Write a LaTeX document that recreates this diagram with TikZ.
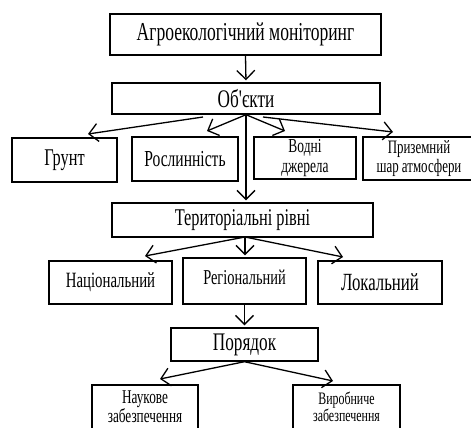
\documentclass[tikz,border=0pt]{standalone}
\usepackage{fontspec}
\setmainfont[FakeStretch=0.68, Ligatures=TeXOff]{Liberation Serif}
\usetikzlibrary{arrows.meta}
\newcommand{\fsz}[2]{\fontsize{#1}{#2}\selectfont}
\tikzset{
  box/.style={draw, line width=1.4pt, inner sep=0pt, align=center},
  link/.style={line width=1.3pt, -{Straight Barb[length=9pt,width=18pt,line width=1.3pt]}},
}
\begin{document}
\begin{tikzpicture}[x=1pt,y=-1pt]
    \useasboundingbox (0,0) rectangle (471,428);

    % Top level
    \node[box, minimum width=271, minimum height=41, font=\fsz{25.8}{26}] (mon) at (245.5,34.5) {Агроекологічний моніторинг};
    \node[box, minimum width=268, minimum height=31, font=\fsz{25.3}{25}] (obj) at (246,98.5) {Об'єкти};

    % Objects
    \node[box, minimum width=105, minimum height=44, font=\fsz{24}{24}] (grunt) at (64.5,160) {Грунт};
    \node[box, minimum width=106, minimum height=44, font=\fsz{22.9}{23}] (rosl) at (185,159) {Рослинність};
    \node[box, minimum width=102, minimum height=42, font=\fsz{19.8}{19.5}] (vodni) at (305,158) {Водні\\джерела};
    \node[box, minimum width=112, minimum height=43, font=\fsz{19}{16}] (atm) at (419,158.5) {Приземний\\шар атмосфери};

    % Territorial levels
    \node[box, minimum width=261, minimum height=34, font=\fsz{24}{24}] (terr) at (242.5,220) {Територіальні рівні};
    \node[box, minimum width=123, minimum height=43, font=\fsz{21.8}{22}] (nats) at (110.5,282.5) {Національний};
    \node[box, minimum width=123, minimum height=46, font=\fsz{21.2}{21}, text depth=8pt] (reg) at (244.5,281) {Регіональний};
    \node[box, minimum width=124, minimum height=43, font=\fsz{24.7}{25}] (lok) at (380,282.5) {Локальний};

    % Order
    \node[box, minimum width=147, minimum height=33, font=\fsz{25.3}{25}] (por) at (244.5,344.5) {Порядок};
    \node[box, minimum width=106, minimum height=44, font=\fsz{19.5}{17.5}] (nauk) at (145,407) {Наукове\\забезпечення};
    \node[box, minimum width=107, minimum height=44, font=\fsz{17.5}{15}] (vyrob) at (346.5,407) {Виробниче\\забезпечення};

    % Arrow ends
    \coordinate (objA) at (203,117);
    \coordinate (objB) at (263,117);
    \coordinate (terO) at (245,237);
    \coordinate (tGrunt) at (88,134);
    \coordinate (tRosl) at (207,131);
    \coordinate (tVodni) at (285,131);
    \coordinate (tAtm) at (393,132);
    \coordinate (tNats) at (145,256);
    \coordinate (tLok) at (343,257);
    \coordinate (tNauk) at (160,379);
    \coordinate (tVyrob) at (333,381);

    % Connectors
    \draw[link, shorten >=2pt] (mon.south) -- (obj.north);
    \draw[link] (objA) -- (tGrunt);
    \draw[link] (obj.south) -- (tRosl);
    \draw[link] (obj.south) -- (tVodni);
    \draw[link] (objB) -- (tAtm);
    \draw[link, shorten >=2pt] (obj.south) -- (obj.south |- terr.north);
    \draw[link] (terO) -- (tNats);
    \draw[link, shorten >=2pt] (terO) -- (terO |- reg.north);
    \draw[link] (terO) -- (tLok);
    \draw[link, shorten >=2pt] (reg.south) -- (por.north);
    \draw[link] (por.south) -- (tNauk);
    \draw[link] (por.south) -- (tVyrob);
\end{tikzpicture}
\end{document}
